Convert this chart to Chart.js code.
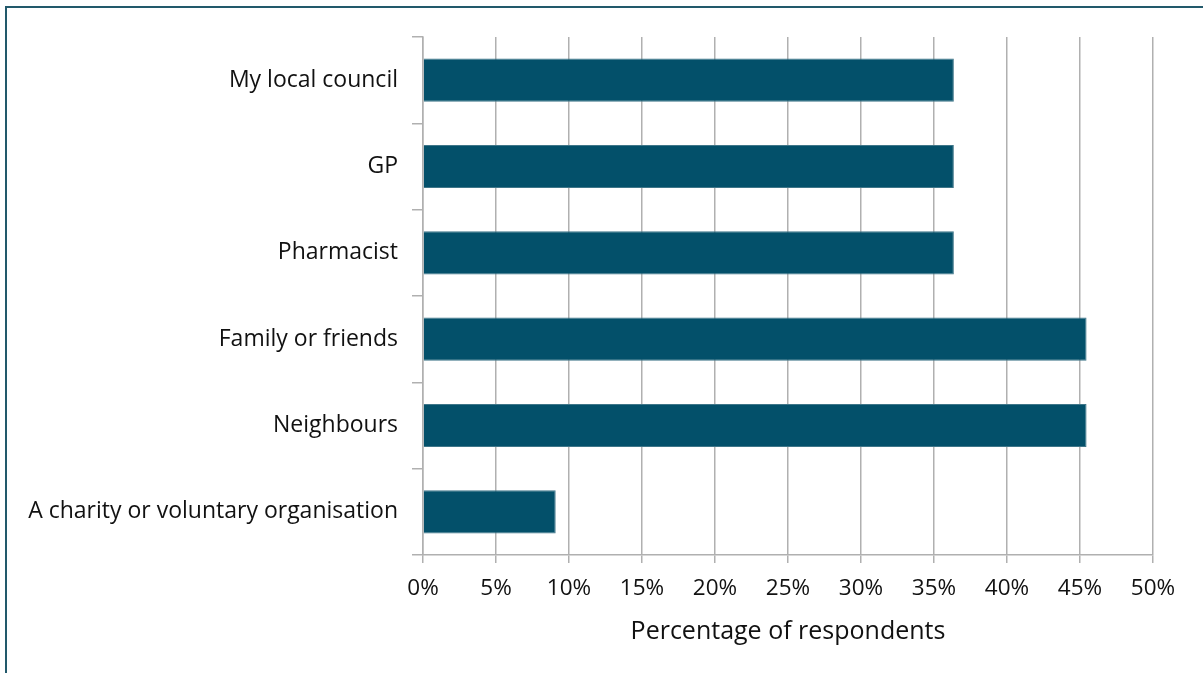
<!DOCTYPE html>
<html>
<head>
<meta charset="utf-8">
<script src="https://cdn.jsdelivr.net/npm/chart.js@4"></script>
<style>
  html, body { margin: 0; padding: 0; background: #fff; overflow: hidden; }
  #wrap { position: relative; width: 1203px; height: 673px; }
  #frame {
    position: absolute; left: 5px; top: 6px; width: 1300px; height: 800px;
    border-left: 2px solid #22596b; border-top: 2px solid #22596b;
    pointer-events: none;
  }
  canvas { position: absolute; left: 0; top: 0; }
</style>
</head>
<body>
<div id="wrap">
  <canvas id="barChart" width="1203" height="673"></canvas>
  <div id="frame"></div>
</div>
<script>
const categories = [
  "My local council",
  "GP",
  "Pharmacist",
  "Family or friends",
  "Neighbours",
  "A charity or voluntary organisation",
];
const respondents = [36.36, 36.36, 36.36, 45.45, 45.45, 9.09];
const xTicks = [0, 5, 10, 15, 20, 25, 30, 35, 40, 45, 50];

document.addEventListener("DOMContentLoaded", function () {
  const ctx = document.getElementById("barChart");
  if (typeof Chart === "undefined") return;

  new Chart(ctx.getContext("2d"), {
    type: "bar",
    data: {
      labels: categories,
      datasets: [
        {
          label: "Percentage of respondents",
          data: respondents,
          backgroundColor: "#03506a",
          borderColor: "#3f7689",
          borderWidth: 1,
          barPercentage: 0.5,
          categoryPercentage: 1,
        },
      ],
    },
    options: {
      indexAxis: "y",
      responsive: false,
      animation: false,
      layout: { padding: { top: 37, right: 50, bottom: 22, left: 0 } },
      plugins: {
        legend: { display: false },
        tooltip: { enabled: false },
      },
      scales: {
        x: {
          min: 0,
          max: 50,
          afterBuildTicks: function (scale) {
            scale.ticks = xTicks.map((v) => ({ value: v }));
          },
          afterFit: function (scale) {
            scale.height = 96;
          },
          grid: {
            color: "#b0b0b0",
            lineWidth: 1.5,
            tickLength: 8,
          },
          border: { color: "#b0b0b0", width: 1.5 },
          ticks: {
            callback: (v) => v + "%",
            color: "#111",
            padding: 12,
            font: { family: "Open Sans", size: 22.5 },
          },
          title: {
            display: true,
            text: "Percentage of respondents",
            color: "#111",
            padding: { top: 4, bottom: 4 },
            font: { family: "Open Sans", size: 25 },
          },
        },
        y: {
          afterFit: function (scale) {
            scale.width = 423;
          },
          grid: {
            offset: true,
            drawOnChartArea: false,
            color: "#b0b0b0",
            lineWidth: 1.5,
            tickLength: 11,
          },
          border: { color: "#b0b0b0", width: 1.5 },
          ticks: {
            color: "#111",
            padding: 14,
            font: { family: "Open Sans", size: 23 },
          },
        },
      },
    },
  });
});
</script>
</body>
</html>
